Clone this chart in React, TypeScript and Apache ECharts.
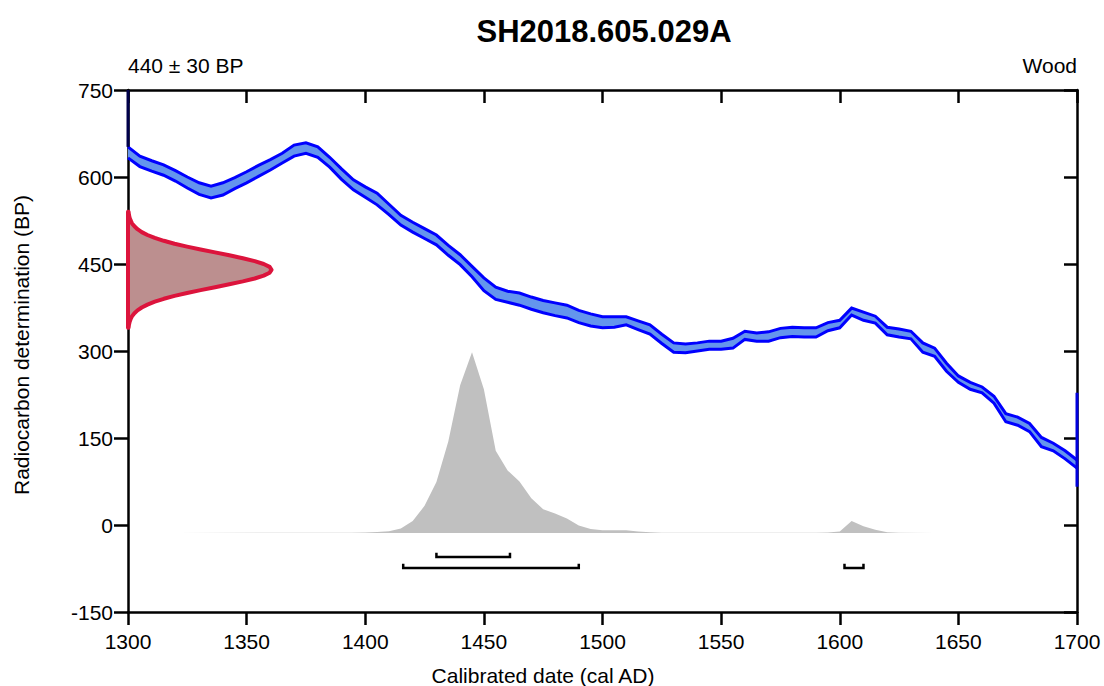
import React, { useEffect, useRef } from "react";
import * as echarts from "echarts";

const chartTitle = "SH2018.605.029A";
const dateLabel = "440 ± 30 BP";
const materialLabel = "Wood";
const xName = "Calibrated date (cal AD)";
const yName = "Radiocarbon determination (BP)";

const xMin = 1300;
const xMax = 1700;
const xStep = 50;
const yMin = -150;
const yMax = 750;
const yStep = 150;

// Calibration curve (upper / lower edge of band, BP)
const curveYears = [
  1300, 1305, 1310, 1315, 1320, 1325, 1330, 1335, 1340, 1345, 1350, 1355, 1360, 1365, 1370, 1375, 1380,
  1385, 1390, 1395, 1400, 1405, 1410, 1415, 1420, 1425, 1430, 1435, 1440, 1445, 1450, 1455, 1460, 1465,
  1470, 1475, 1480, 1485, 1490, 1495, 1500, 1505, 1510, 1515, 1520, 1525, 1530, 1535, 1540, 1545, 1550,
  1555, 1560, 1565, 1570, 1575, 1580, 1585, 1590, 1595, 1600, 1605, 1610, 1615, 1620, 1625, 1630, 1635,
  1640, 1645, 1650, 1655, 1660, 1665, 1670, 1675, 1680, 1685, 1690, 1695, 1700,
];
const curveUpper = [
  652, 636, 628, 621, 611, 600, 590, 584, 590, 599, 609, 620, 630, 641, 655, 659, 652,
  634, 614, 595, 583, 572, 553, 534, 522, 511, 500, 482, 466, 446, 426, 410, 403, 400,
  393, 387, 383, 379, 370, 364, 359, 359, 359, 352, 345, 329, 314, 312, 314, 317, 317,
  322, 334, 331, 333, 339, 341, 340, 340, 349, 353, 374, 367, 360, 341, 338, 334, 314,
  305, 279, 257, 246, 238, 222, 192, 186, 175, 151, 141, 128, 112,
];
const curveLower = [
  633, 618, 610, 603, 593, 581, 570, 564, 569, 580, 590, 601, 612, 624, 636, 641, 634,
  617, 596, 578, 565, 552, 535, 517, 505, 494, 483, 465, 449, 428, 404, 389, 384, 379,
  372, 366, 361, 357, 349, 343, 340, 341, 345, 337, 329, 313, 298, 297, 300, 303, 303,
  305, 320, 317, 317, 323, 325, 324, 324, 335, 340, 362, 353, 348, 328, 324, 321, 298,
  291, 265, 246, 234, 228, 210, 178, 172, 161, 135, 128, 114, 98,
];

// Radiocarbon measurement likelihood (BP vs. width in years)
const likeBP = [
  340, 345, 350, 355, 360, 365, 370, 375, 380, 385, 390, 395, 400, 405, 410, 415, 420, 425, 430, 435, 440,
  445, 450, 455, 460, 465, 470, 475, 480, 485, 490, 495, 500, 505, 510, 515, 520, 525, 530, 535, 540,
];
const likeWidth = [
  0.24, 0.4, 0.67, 1.1, 1.7, 2.7, 4.0, 5.8, 8.2, 11.3, 15.1, 19.6, 24.9, 30.6, 36.7, 42.7, 48.4, 53.4, 57.2, 59.7, 60.5,
  59.7, 57.2, 53.4, 48.4, 42.7, 36.7, 30.6, 24.9, 19.6, 15.1, 11.3, 8.2, 5.8, 4.0, 2.7, 1.7, 1.1, 0.67, 0.4, 0.24,
];

// Calibrated date distribution
const postBase = -14;
const postYears = [
  1320, 1360, 1394, 1400, 1405, 1410, 1415, 1420, 1425, 1430, 1435, 1440, 1445, 1450, 1455, 1460, 1465,
  1470, 1475, 1480, 1485, 1490, 1495, 1500, 1505, 1510, 1515, 1520, 1525, 1560, 1590, 1595, 1600, 1605,
  1610, 1615, 1620, 1625, 1640,
];
const postHeights = [
  0.4, 0.5, 0.6, 1, 2, 3.4, 8, 21, 47, 88, 158, 255, 312, 248, 142, 108, 89,
  60, 41, 34, 25, 13, 7, 5, 5, 5, 3, 1.5, 0.6, 0.5, 0.6, 1, 3, 21,
  12, 6, 1.5, 0.6, 0.4,
];

// HPD ranges: [from, to, level]
const hpdRanges = [
  [1430, 1461, 1],
  [1416, 1490, 2],
  [1602, 1610, 2],
];
const hpdLine = { 1: -55, 2: -74 } as Record<number, number>;
const hpdTop = { 1: -48, 2: -67 } as Record<number, number>;

// curve edge artifacts at plot borders: [year, fromBP, toBP]
const edgeMarks = [
  [1300, 750, 652],
  [1700, 228, 66],
];

const FONT = "'Liberation Sans', Arial, Helvetica, sans-serif";

export default function App() {
  const ref = useRef<HTMLDivElement>(null);

  useEffect(() => {
    if (!ref.current) return;
    const chart = echarts.init(ref.current, undefined, { renderer: "svg" });

    const axisLineStyle = { color: "#000", width: 2.5 };
    const plainLabel = (v: number) => String(v);

    const option: any = {
      animation: false,
      backgroundColor: "#fff",
      grid: { left: 128, right: 27, top: 90, bottom: 74, containLabel: false },
      xAxis: [
        {
          type: "value",
          position: "bottom",
          min: xMin,
          max: xMax,
          interval: xStep,
          axisLine: { show: true, onZero: false, lineStyle: axisLineStyle },
          axisTick: { show: true, inside: false, length: 13, lineStyle: axisLineStyle },
          axisLabel: { show: true, color: "#000", fontSize: 21, fontFamily: FONT, margin: 19, formatter: plainLabel },
          splitLine: { show: false },
        },
        {
          type: "value",
          position: "top",
          min: xMin,
          max: xMax,
          interval: xStep,
          axisLine: { show: true, onZero: false, lineStyle: axisLineStyle },
          axisTick: { show: true, inside: true, length: 13, lineStyle: axisLineStyle },
          axisLabel: { show: false },
          splitLine: { show: false },
        },
      ],
      yAxis: [
        {
          type: "value",
          position: "left",
          min: yMin,
          max: yMax,
          interval: yStep,
          axisLine: { show: true, onZero: false, lineStyle: axisLineStyle },
          axisTick: { show: true, inside: false, length: 14, lineStyle: axisLineStyle },
          axisLabel: { show: true, color: "#000", fontSize: 21, fontFamily: FONT, margin: 15, formatter: plainLabel },
          splitLine: { show: false },
        },
        {
          type: "value",
          position: "right",
          min: yMin,
          max: yMax,
          interval: yStep,
          axisLine: { show: true, onZero: false, lineStyle: axisLineStyle },
          axisTick: { show: true, inside: true, length: 13, lineStyle: axisLineStyle },
          axisLabel: { show: false },
          splitLine: { show: false },
        },
      ],
      graphic: [
        {
          type: "text",
          x: 604,
          y: 31,
          style: { text: chartTitle, font: `bold 31px ${FONT}`, fill: "#000", textAlign: "center", textVerticalAlign: "middle" },
        },
        {
          type: "text",
          x: 128,
          y: 65,
          style: { text: dateLabel, font: `21px ${FONT}`, fill: "#000", textAlign: "left", textVerticalAlign: "middle" },
        },
        {
          type: "text",
          x: 1077,
          y: 65,
          style: { text: materialLabel, font: `21px ${FONT}`, fill: "#000", textAlign: "right", textVerticalAlign: "middle" },
        },
        {
          type: "text",
          x: 543,
          y: 675,
          style: { text: xName, font: `21px ${FONT}`, fill: "#000", textAlign: "center", textVerticalAlign: "middle" },
        },
        {
          type: "text",
          x: 21,
          y: 345,
          rotation: Math.PI / 2,
          style: { text: yName, font: `21px ${FONT}`, fill: "#000", textAlign: "center", textVerticalAlign: "middle" },
        },
      ],
      series: [
        // calibrated distribution
        {
          type: "custom",
          coordinateSystem: "cartesian2d",
          z: 2,
          silent: true,
          data: postYears.map((y, i) => [y, postBase + postHeights[i]]),
          renderItem: (params: any, api: any) => {
            if (params.dataIndex !== 0) return null;
            const pts = postYears.map((y, i) => api.coord([y, postBase + postHeights[i]]));
            const first = api.coord([postYears[0], postBase]);
            const last = api.coord([postYears[postYears.length - 1], postBase]);
            return {
              type: "polygon",
              shape: { points: [first, ...pts, last] },
              style: { fill: "#c0c0c0", stroke: "none" },
            };
          },
        },
        // HPD brackets
        {
          type: "custom",
          coordinateSystem: "cartesian2d",
          z: 3,
          silent: true,
          data: hpdRanges.map((r) => [r[0], hpdLine[r[2]], r[1], hpdTop[r[2]]]),
          renderItem: (params: any, api: any) => {
            const a = api.value(0), yl = api.value(1), b = api.value(2), yt = api.value(3);
            const p1 = api.coord([a, yt]);
            const p2 = api.coord([a, yl]);
            const p3 = api.coord([b, yl]);
            const p4 = api.coord([b, yt]);
            return {
              type: "polyline",
              shape: { points: [p1, p2, p3, p4] },
              style: { stroke: "#000", lineWidth: 2.5, fill: "none" },
            };
          },
        },
        // calibration curve band
        {
          type: "custom",
          coordinateSystem: "cartesian2d",
          z: 4,
          silent: true,
          data: curveYears.map((y, i) => [y, curveUpper[i], curveLower[i]]),
          renderItem: (params: any, api: any) => {
            if (params.dataIndex !== 0) return null;
            const up = curveYears.map((y, i) => api.coord([y, curveUpper[i]]));
            const lo = curveYears.map((y, i) => api.coord([y, curveLower[i]]));
            return {
              type: "group",
              children: [
                {
                  type: "polygon",
                  shape: { points: up.concat(lo.slice().reverse()) },
                  style: { fill: "#6495ED", stroke: "none" },
                },
                { type: "polyline", shape: { points: up }, style: { stroke: "#0000FF", lineWidth: 3, fill: "none" } },
                { type: "polyline", shape: { points: lo }, style: { stroke: "#0000FF", lineWidth: 3, fill: "none" } },
              ],
            };
          },
        },
        // edge marks
        {
          type: "custom",
          coordinateSystem: "cartesian2d",
          z: 5,
          silent: true,
          data: edgeMarks,
          renderItem: (params: any, api: any) => {
            const x = api.value(0);
            const p1 = api.coord([x, api.value(1)]);
            const p2 = api.coord([x, api.value(2)]);
            return {
              type: "line",
              shape: { x1: p1[0], y1: p1[1], x2: p2[0], y2: p2[1] },
              style: { stroke: params.dataIndex === 0 ? "#00004a" : "#0000dd", lineWidth: 3 },
            };
          },
        },
        // measurement likelihood
        {
          type: "custom",
          coordinateSystem: "cartesian2d",
          z: 4,
          silent: true,
          data: likeBP.map((b, i) => [xMin + likeWidth[i], b]),
          renderItem: (params: any, api: any) => {
            if (params.dataIndex !== 0) return null;
            const pts = likeBP.map((b, i) => api.coord([xMin + likeWidth[i], b]));
            const first = api.coord([xMin, likeBP[0]]);
            const last = api.coord([xMin, likeBP[likeBP.length - 1]]);
            return {
              type: "polygon",
              shape: { points: [first, ...pts, last] },
              style: { fill: "#bc8f8f", stroke: "#DC143C", lineWidth: 4, lineJoin: "round" },
            };
          },
        },
      ],
    };

    chart.setOption(option);
    return () => chart.dispose();
  }, []);

  return (
    <div
      ref={ref}
      style={{ position: "fixed", left: 0, top: 0, width: 1104, height: 686, background: "#fff" }}
    />
  );
}
